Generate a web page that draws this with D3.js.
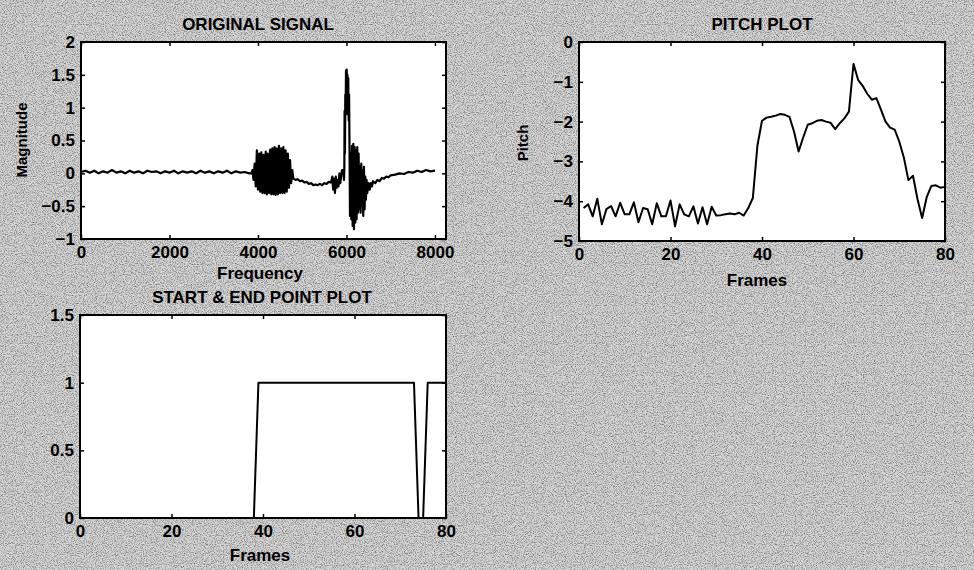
<!DOCTYPE html>
<html>
<head>
<meta charset="utf-8">
<script src="https://cdn.jsdelivr.net/npm/d3@7"></script>
<style>
  html, body { margin: 0; padding: 0; background: #d0d0d0; }
  svg { display: block; }
  text { font-family: "Liberation Sans", Arial, sans-serif; font-weight: bold; fill: #000; }
</style>
</head>
<body>
<svg id="chart" width="974" height="570"></svg>
<script>
// ---------------- DATA ----------------
// Original signal (magnitude vs. sample index "Frequency")
const signalX = [
  0,100,200,300,400,500,600,700,800,900,1000,1100,1200,1300,1400,1500,1600,1700,1800,1900,
  2000,2100,2200,2300,2400,2500,2600,2700,2800,2900,3000,3100,3200,3300,3400,3500,3600,3700,3800,
  3850,3875,3900,3925,3950,3975,4000,4025,4050,4075,4100,4125,4150,4175,4200,4225,4250,4275,4300,
  4325,4350,4375,4400,4425,4450,4475,4500,4525,4550,4575,4600,4625,4650,4675,4700,4725,4750,4775,4800,
  4850,4900,4950,5000,5050,5100,5150,5200,5250,5300,5350,5400,5450,5500,5550,5600,5650,
  5680,5700,5720,5740,5760,5780,5800,5820,5840,5860,5880,5900,5930,5945,
  5952,5958,5966,5974,5982,5990,5998,6006,6014,6022,6030,6040,6050,6060,6070,6080,
  6095,6110,6125,6140,6155,6170,6185,
  6200,6215,6230,6245,6260,6275,6290,6305,6320,6335,6350,6365,6380,6395,6410,6425,6440,6455,6470,
  6500,6525,6550,6575,6600,6650,6700,6750,6800,6850,6900,6950,7000,7100,7200,7300,7400,7500,7600,7700,7800,7900,8000
];
const signalY = [
  0.02,0.04,0.01,0.04,0.00,0.03,0.01,0.05,0.01,0.03,0.00,0.04,0.01,0.03,0.00,0.04,0.02,0.03,0.00,0.03,
  0.01,0.04,0.00,0.03,0.01,0.03,0.00,0.04,0.01,0.03,0.00,0.03,0.01,0.04,0.00,0.03,0.01,0.02,0.00,
  0.00,0.05,-0.10,0.15,-0.20,0.35,-0.25,0.30,-0.28,0.32,-0.30,0.28,-0.30,0.33,-0.32,0.30,-0.30,0.36,-0.32,
  0.38,-0.32,0.40,-0.33,0.38,-0.32,0.42,-0.30,0.38,-0.30,0.40,-0.30,0.35,-0.28,0.30,-0.22,0.20,-0.15,0.05,-0.08,
  -0.10,-0.09,-0.12,-0.11,-0.14,-0.13,-0.16,-0.15,-0.18,-0.17,-0.18,-0.16,-0.18,-0.15,-0.16,-0.13,-0.14,
  -0.05,-0.25,-0.08,-0.30,-0.05,-0.22,-0.10,-0.20,0.00,-0.15,-0.05,0.05,0.05,-0.10,
  0.10,0.95,0.30,1.20,0.90,1.57,0.95,1.58,0.90,1.50,0.90,1.45,0.80,1.20,0.30,-0.65,
  0.30,-0.70,0.42,-0.80,0.45,-0.85,0.40,
  -0.75,0.35,-0.70,0.40,-0.60,0.30,-0.55,0.10,-0.60,0.15,-0.50,0.05,-0.65,0.10,-0.55,-0.05,-0.40,-0.10,-0.30,
  -0.15,-0.25,-0.15,-0.20,-0.12,-0.15,-0.10,-0.12,-0.07,-0.08,-0.05,-0.06,-0.03,-0.02,0.00,-0.01,0.02,0.01,0.04,0.02,0.05,0.03,0.04
];
const signalXTicks = [0, 2000, 4000, 6000, 8000];
const signalYTicks = [-1, -0.5, 0, 0.5, 1, 1.5, 2];

// Pitch per frame (frames 1..80)
const pitchFrames = d3.range(1, 81);
const pitchValues = [
  -4.17,-4.08,-4.38,-3.94,-4.58,-4.20,-4.12,-4.38,-4.04,-4.33,
  -4.33,-4.03,-4.53,-4.17,-4.20,-4.58,-4.05,-4.38,-4.38,-3.98,
  -4.63,-4.08,-4.33,-4.38,-4.13,-4.56,-4.15,-4.58,-4.14,-4.36,
  -4.35,-4.33,-4.31,-4.33,-4.29,-4.36,-4.17,-3.92,-2.60,-1.98,
  -1.90,-1.88,-1.85,-1.81,-1.83,-1.88,-2.25,-2.75,-2.40,-2.08,
  -2.04,-1.98,-1.96,-2.00,-2.03,-2.19,-2.04,-1.92,-1.75,-0.55,
  -0.95,-1.10,-1.30,-1.45,-1.41,-1.70,-2.00,-2.15,-2.20,-2.50,
  -2.90,-3.47,-3.36,-3.95,-4.42,-3.90,-3.62,-3.60,-3.66,-3.64
];
const pitchXTicks = [0, 20, 40, 60, 80];
const pitchYTicks = [-5, -4, -3, -2, -1, 0];

// Start & end point detection per frame (frames 0..80)
const endpointFrames = d3.range(0, 81);
const endpointValues = [
  0,0,0,0,0,0,0,0,0,0, 0,0,0,0,0,0,0,0,0,0,
  0,0,0,0,0,0,0,0,0,0, 0,0,0,0,0,0,0,0,0,1,
  1,1,1,1,1,1,1,1,1,1, 1,1,1,1,1,1,1,1,1,1,
  1,1,1,1,1,1,1,1,1,1, 1,1,1,1,0,0,1,1,1,1,
  1
];
const endpointXTicks = [0, 20, 40, 60, 80];
const endpointYTicks = [0, 0.5, 1, 1.5];

const titles = ["ORIGINAL SIGNAL", "PITCH PLOT", "START & END POINT PLOT"];

// ---------------- DRAW ----------------
const svg = d3.select("#chart");

// textured background
const defs = svg.append("defs");
const f = defs.append("filter").attr("id", "noise").attr("x", 0).attr("y", 0).attr("width", "100%").attr("height", "100%");
f.append("feTurbulence").attr("type", "fractalNoise").attr("baseFrequency", 0.9).attr("numOctaves", 2).attr("seed", 7).attr("result", "t");
f.append("feColorMatrix").attr("type", "matrix")
  .attr("values", "0 0 0 0 0  0 0 0 0 0  0 0 0 0 0  -1.8 0 0 0 1.05");
svg.append("rect").attr("width", 974).attr("height", 570).attr("fill", "#d6d6d6");
svg.append("rect").attr("width", 974).attr("height", 570).attr("filter", "url(#noise)").attr("opacity", 0.6);

function panel(cfg) {
  const {x0, x1, y0, y1, xDomain, yDomain, xTicks, yTicks, xFmt, yFmt} = cfg;
  const xs = d3.scaleLinear().domain(xDomain).range([x0, x1]);
  const ys = d3.scaleLinear().domain(yDomain).range([y1, y0]);
  const g = svg.append("g");
  g.append("rect").attr("x", x0).attr("y", y0).attr("width", x1 - x0).attr("height", y1 - y0)
    .attr("fill", "#fff");

  const axB = g.append("g").attr("transform", `translate(0,${y1})`)
    .call(d3.axisBottom(xs).tickValues(xTicks).tickSizeInner(-4).tickSizeOuter(0).tickPadding(7).tickFormat(xFmt));
  const axT = g.append("g").attr("transform", `translate(0,${y0})`)
    .call(d3.axisTop(xs).tickValues(xTicks).tickSizeInner(-4).tickSizeOuter(0).tickFormat(""));
  const axL = g.append("g").attr("transform", `translate(${x0},0)`)
    .call(d3.axisLeft(ys).tickValues(yTicks).tickSizeInner(-4).tickSizeOuter(0).tickPadding(6).tickFormat(yFmt));
  const axR = g.append("g").attr("transform", `translate(${x1},0)`)
    .call(d3.axisRight(ys).tickValues(yTicks).tickSizeInner(-4).tickSizeOuter(0).tickFormat(""));
  [axB, axT, axL, axR].forEach(a => {
    a.select(".domain").remove();
    a.selectAll("line").attr("stroke", "#000").attr("stroke-width", 1.5);
    a.selectAll("text").attr("font-size", 17).attr("font-weight", "bold")
      .attr("font-family", "'Liberation Sans', Arial, sans-serif").attr("fill", "#000");
  });
  g.append("rect").attr("x", x0).attr("y", y0).attr("width", x1 - x0).attr("height", y1 - y0)
    .attr("fill", "none").attr("stroke", "#000").attr("stroke-width", 2);
  return {g, xs, ys};
}

const fmtPlain = d => d3.format("")(d);

// Panel 1: original signal
const p1 = panel({x0: 81, x1: 446, y0: 42, y1: 239, xDomain: [0, 8250], yDomain: [-1, 2],
  xTicks: signalXTicks, yTicks: signalYTicks, xFmt: fmtPlain, yFmt: fmtPlain});
p1.g.append("path")
  .datum(d3.zip(signalX, signalY))
  .attr("fill", "none").attr("stroke", "#000").attr("stroke-width", 2.2).attr("stroke-linejoin", "round")
  .attr("d", d3.line().x(d => p1.xs(d[0])).y(d => p1.ys(d[1])));
svg.append("text").attr("x", 258).attr("y", 30).attr("text-anchor", "middle").attr("font-size", 17).text(titles[0]);
svg.append("text").attr("x", 260).attr("y", 279).attr("text-anchor", "middle").attr("font-size", 17).text("Frequency");
svg.append("text").attr("transform", "translate(27,140) rotate(-90)").attr("text-anchor", "middle").attr("font-size", 15).text("Magnitude");

// Panel 2: pitch
const p2 = panel({x0: 579, x1: 945, y0: 42, y1: 241, xDomain: [0, 80], yDomain: [-5, 0],
  xTicks: pitchXTicks, yTicks: pitchYTicks, xFmt: fmtPlain, yFmt: fmtPlain});
p2.g.append("path")
  .datum(d3.zip(pitchFrames, pitchValues))
  .attr("fill", "none").attr("stroke", "#000").attr("stroke-width", 2).attr("stroke-linejoin", "round")
  .attr("d", d3.line().x(d => p2.xs(d[0])).y(d => p2.ys(d[1])));
svg.append("text").attr("x", 762).attr("y", 30).attr("text-anchor", "middle").attr("font-size", 17).text(titles[1]);
svg.append("text").attr("x", 757).attr("y", 286).attr("text-anchor", "middle").attr("font-size", 17).text("Frames");
svg.append("text").attr("transform", "translate(528,143) rotate(-90)").attr("text-anchor", "middle").attr("font-size", 15).text("Pitch");

// Panel 3: start & end points
const p3 = panel({x0: 80, x1: 446, y0: 315, y1: 518, xDomain: [0, 80], yDomain: [0, 1.5],
  xTicks: endpointXTicks, yTicks: endpointYTicks, xFmt: fmtPlain, yFmt: fmtPlain});
p3.g.append("path")
  .datum(d3.zip(endpointFrames, endpointValues))
  .attr("fill", "none").attr("stroke", "#000").attr("stroke-width", 2).attr("stroke-linejoin", "round")
  .attr("d", d3.line().x(d => p3.xs(d[0])).y(d => p3.ys(d[1])));
svg.append("text").attr("x", 262).attr("y", 303).attr("text-anchor", "middle").attr("font-size", 17).text(titles[2]);
svg.append("text").attr("x", 260).attr("y", 561).attr("text-anchor", "middle").attr("font-size", 17).text("Frames");
</script>
</body>
</html>
